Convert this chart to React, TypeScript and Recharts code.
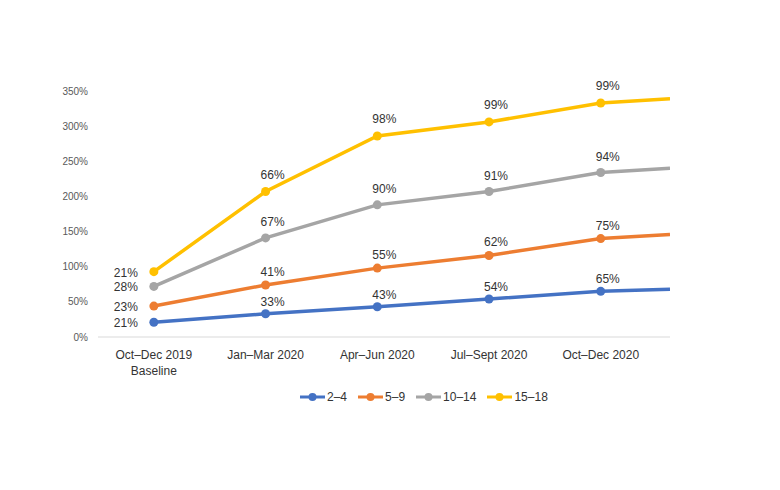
import React from 'react';
import { ComposedChart, Area, XAxis, YAxis, LabelList, Legend } from 'recharts';

// quarters, "|" splits a second line
const QUARTERS = ['Oct–Dec 2019|Baseline', 'Jan–Mar 2020', 'Apr–Jun 2020', 'Jul–Sept 2020', 'Oct–Dec 2020'];
// last position is the trailing segment running to the plot edge (no marker, no label)
const X_POS = [0, 1, 2, 3, 4, 4.62];
const AGE_2_4 = [21, 33, 43, 54, 65, 68];
const AGE_5_9 = [23, 41, 55, 62, 75, 78];
const AGE_10_14 = [28, 67, 90, 91, 94, 94];
const AGE_15_18 = [21, 66, 98, 99, 99, 99];
const Y_TICKS = [0, 50, 100, 150, 200, 250, 300, 350];

const FONT = '"Liberation Sans", Arial, sans-serif';
const TEXT = '#333333';

const SERIES = [
  { key: 'a', name: '2–4', color: '#4472C4', values: AGE_2_4, lift: 12 },
  { key: 'b', name: '5–9', color: '#ED7D31', values: AGE_5_9, lift: 13 },
  { key: 'c', name: '10–14', color: '#A5A5A5', values: AGE_10_14, lift: 16 },
  { key: 'd', name: '15–18', color: '#FFC000', values: AGE_15_18, lift: 17 },
];

const data = X_POS.map((x, i) => {
  const row: Record<string, number> = { x };
  SERIES.forEach(s => { row[s.key] = s.values[i]; });
  return row;
});

function QuarterTick({ x, y, payload }: any) {
  const lines = (QUARTERS[payload.value] || '').split('|');
  return (
    <text x={x} y={y} textAnchor="middle" fontSize={12} fill={TEXT} fontFamily={FONT}>
      {lines.map((l, i) => (
        <tspan key={i} x={x} dy={i === 0 ? 14 : 16}>{l}</tspan>
      ))}
    </text>
  );
}

function makeDot(color: string) {
  return (p: any) => {
    if (p.index >= QUARTERS.length) return <g key={`d-${p.index}`} />;
    return <circle key={`d-${p.index}`} cx={p.cx} cy={p.cy} r={4.5} fill={color} />;
  };
}

function makeLabel(values: number[], lift: number) {
  return (p: any) => {
    const { x, y, index } = p;
    if (index == null || index >= QUARTERS.length) return null;
    const txt = `${values[index]}%`;
    if (index === 0) {
      return (
        <text x={x - 28} y={y + 5} textAnchor="middle" fontSize={12} fill={TEXT} fontFamily={FONT}>{txt}</text>
      );
    }
    return (
      <text x={x + 7} y={y - lift + 4} textAnchor="middle" fontSize={12} fill={TEXT} fontFamily={FONT}>{txt}</text>
    );
  };
}

function LegendBox() {
  return (
    <div style={{ display: 'flex', gap: 11, fontFamily: FONT, fontSize: 12, color: TEXT, alignItems: 'center', height: 14 }}>
      {SERIES.map(s => (
        <div key={s.key} style={{ display: 'flex', alignItems: 'center', gap: 2 }}>
          <svg width={25} height={10}>
            <line x1={0} y1={5} x2={25} y2={5} stroke={s.color} strokeWidth={3} />
            <circle cx={12.5} cy={5} r={4} fill={s.color} />
          </svg>
          <span>{s.name}</span>
        </div>
      ))}
    </div>
  );
}

export default function App() {
  return (
    <div style={{ position: 'absolute', left: 0, top: 0, width: 780, height: 490, background: '#fff' }}>
      <ComposedChart width={780} height={490} data={data}
        margin={{ top: 91, right: 110, bottom: 99, left: 38 }}>
        <XAxis dataKey="x" type="number" domain={[-0.5, 4.62]} ticks={[0, 1, 2, 3, 4]}
          allowDataOverflow height={40} tickLine={false} stroke="#d9d9d9"
          tick={<QuarterTick />} interval={0} />
        <YAxis domain={[0, 350]} ticks={Y_TICKS} width={60} axisLine={false} tickLine={false}
          tickSize={0} tickMargin={10} tickFormatter={v => `${v}%`}
          tick={{ fontSize: 10, fill: '#595959', fontFamily: FONT }} />
        {SERIES.map(s => (
          <Area key={s.key} type="linear" dataKey={s.key} name={s.name} stackId="1"
            stroke={s.color} strokeWidth={3.5} fill="none" fillOpacity={0}
            dot={makeDot(s.color)} activeDot={false} isAnimationActive={false}>
            <LabelList dataKey={s.key} content={makeLabel(s.values, s.lift)} />
          </Area>
        ))}
        <Legend content={<LegendBox />}
          wrapperStyle={{ position: 'absolute', left: 300, top: 390, width: 260, height: 14 }} />
      </ComposedChart>
    </div>
  );
}
